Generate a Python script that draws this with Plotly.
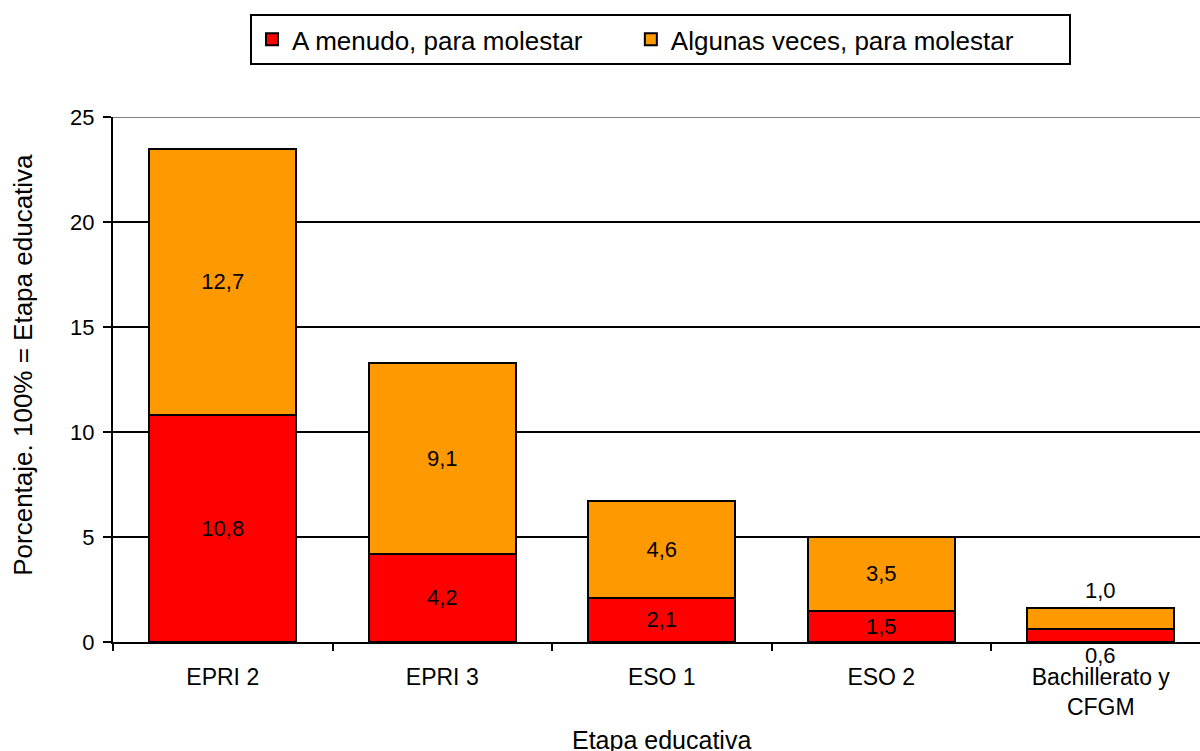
import plotly.graph_objects as go

# Etapas educativas y porcentajes por frecuencia
etapas = ["EPRI 2", "EPRI 3", "ESO 1", "ESO 2", "Bachillerato y<br>CFGM"]
a_menudo = [10.8, 4.2, 2.1, 1.5, 0.6]
algunas_veces = [12.7, 9.1, 4.6, 3.5, 1.0]
y_ticks = [0, 5, 10, 15, 20, 25]

FONT = "Liberation Sans, Arial, sans-serif"
LABEL_SIZE = 22
NBSP = "\u00a0"


def fmt(v):
    return f"{v:.1f}".replace(".", ",")


# Etiquetas dentro de las barras, salvo en la última categoría (barra muy baja)
inside_red = [fmt(v) if i < len(etapas) - 1 else "" for i, v in enumerate(a_menudo)]
inside_orange = [fmt(v) if i < len(etapas) - 1 else "" for i, v in enumerate(algunas_veces)]

fig = go.Figure()
fig.add_trace(go.Bar(
    # espacios finales para separar las dos entradas de la leyenda
    name="A menudo, para molestar" + NBSP * 6,
    x=etapas, y=a_menudo,
    marker=dict(color="#FF0000", line=dict(color="black", width=2)),
    text=inside_red, textposition="inside", insidetextanchor="middle",
    textfont=dict(family=FONT, size=LABEL_SIZE, color="black"),
    constraintext="none",
))
fig.add_trace(go.Bar(
    name="Algunas veces, para molestar" + NBSP * 7,
    x=etapas, y=algunas_veces,
    marker=dict(color="#FF9900", line=dict(color="black", width=2)),
    text=inside_orange, textposition="inside", insidetextanchor="middle",
    textfont=dict(family=FONT, size=LABEL_SIZE, color="black"),
    constraintext="none",
))

# Etiquetas de la última categoría, fuera de la barra
last = len(etapas) - 1
fig.add_annotation(x=etapas[last], y=a_menudo[last] + algunas_veces[last],
                   text=fmt(algunas_veces[last]), showarrow=False,
                   yanchor="bottom", yshift=3,
                   font=dict(family=FONT, size=LABEL_SIZE, color="black"))
fig.add_annotation(x=etapas[last], y=0, text=fmt(a_menudo[last]),
                   showarrow=False, yanchor="top", yshift=1,
                   font=dict(family=FONT, size=LABEL_SIZE, color="black"))

# Títulos de los ejes
fig.add_annotation(xref="paper", yref="paper", x=-0.083, y=0.5276,
                   text="Porcentaje. 100% = Etapa educativa", textangle=-90,
                   showarrow=False, xanchor="center", yanchor="middle",
                   font=dict(family=FONT, size=26, color="black"))
fig.add_annotation(xref="paper", yref="paper", x=0.505, y=-0.1867,
                   text="Etapa educativa", showarrow=False,
                   xanchor="center", yanchor="middle",
                   font=dict(family=FONT, size=25, color="black"))

# Línea superior del área de trazado en gris
fig.add_shape(type="line", xref="paper", yref="y", x0=0, x1=1, y0=25, y1=25,
              line=dict(color="#808080", width=2), layer="above")

fig.update_layout(
    width=1200, height=751,
    margin=dict(l=113, r=0, t=117, b=109),
    plot_bgcolor="white", paper_bgcolor="white",
    barmode="stack", bargap=0.33,
    font=dict(family=FONT, color="black"),
    showlegend=True,
    legend=dict(
        orientation="h", x=0.4899, xanchor="left", y=0.9814, yref="container",
        yanchor="top",
        font=dict(family=FONT, size=26, color="black"),
        bordercolor="black", borderwidth=2, bgcolor="white",
        traceorder="normal",
    ),
    xaxis=dict(
        type="category", range=[-0.5, 4.452], automargin=False,
        showline=True, linecolor="black", linewidth=2,
        ticks="outside", ticklen=7, tickwidth=2, tickcolor="black",
        tickson="boundaries", ticklabelstandoff=13,
        tickfont=dict(family=FONT, size=23, color="black"),
    ),
    yaxis=dict(
        range=[0, 25], tickvals=y_ticks, automargin=False,
        showline=True, linecolor="black", linewidth=2,
        ticks="outside", ticklen=8, tickwidth=2, tickcolor="black",
        showgrid=True, gridcolor="black", gridwidth=2,
        zeroline=False, ticklabelstandoff=4,
        tickfont=dict(family=FONT, size=22, color="black"),
    ),
)

# La leyenda se ancla por su borde izquierdo en píxeles
fig.update_layout(legend=dict(x=(256 - 6 - 113) / 1087, xanchor="left"))

fig.write_html("out.html")
